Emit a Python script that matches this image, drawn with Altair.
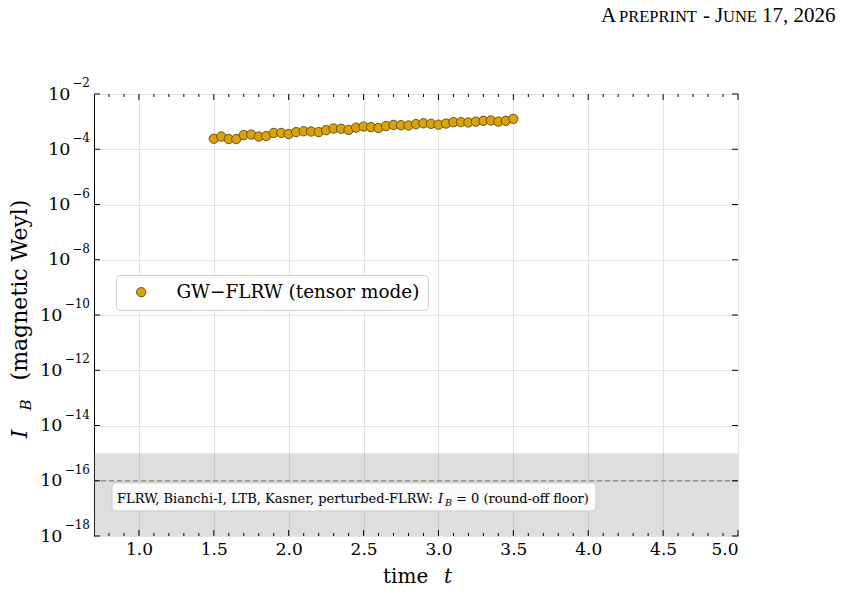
import altair as alt
import pandas as pd

# ---------------- data ----------------
t_values = [1.50, 1.55, 1.60, 1.65, 1.70, 1.75, 1.80, 1.85, 1.90, 1.95,
            2.00, 2.05, 2.10, 2.15, 2.20, 2.25, 2.30, 2.35, 2.40, 2.45,
            2.50, 2.55, 2.60, 2.65, 2.70, 2.75, 2.80, 2.85, 2.90, 2.95,
            3.00, 3.05, 3.10, 3.15, 3.20, 3.25, 3.30, 3.35, 3.40, 3.45, 3.50]
ib_values = [2.40e-4, 2.88e-4, 2.34e-4, 2.34e-4, 3.24e-4, 3.39e-4, 2.88e-4, 3.02e-4, 3.89e-4, 3.89e-4,
             3.55e-4, 4.17e-4, 4.47e-4, 4.37e-4, 4.17e-4, 4.90e-4, 5.62e-4, 5.50e-4, 5.01e-4, 6.03e-4,
             6.61e-4, 6.31e-4, 5.89e-4, 6.92e-4, 7.59e-4, 7.41e-4, 7.24e-4, 8.13e-4, 8.71e-4, 8.32e-4,
             7.76e-4, 8.51e-4, 9.55e-4, 9.55e-4, 9.33e-4, 1.00e-3, 1.07e-3, 1.10e-3, 1.00e-3, 1.07e-3, 1.26e-3]
series_name = "GW\u2212FLRW (tensor mode)"

x_major = [1.0, 1.5, 2.0, 2.5, 3.0, 3.5, 4.0, 4.5, 5.0]
x_minor = [0.8, 0.9, 1.1, 1.2, 1.3, 1.4, 1.6, 1.7, 1.8, 1.9, 2.1, 2.2, 2.3, 2.4,
           2.6, 2.7, 2.8, 2.9, 3.1, 3.2, 3.3, 3.4, 3.6, 3.7, 3.8, 3.9, 4.1, 4.2,
           4.3, 4.4, 4.6, 4.7, 4.8, 4.9]
y_exponents = [-2, -4, -6, -8, -10, -12, -14, -16, -18]
y_major = [1e-2, 1e-4, 1e-6, 1e-8, 1e-10, 1e-12, 1e-14, 1e-16, 1e-18]
floor_band = [1e-18, 1e-15]
floor_level = [1e-16]

# ---------------- layout ----------------
W, H = 644, 442
SERIF = "DejaVu Serif"
TIMES = "Liberation Serif"
GOLD = "#DBA20B"
EDGE = "#4a3a00"

xscale = alt.Scale(domain=[0.7, 5.0], nice=False, zero=False)
yscale = alt.Scale(type="log", domain=[1e-18, 1e-2], nice=False)

xaxis = alt.Axis(values=x_major, format=".1f", title=None, ticks=False, tickSize=0,
                 domain=False, grid=True, gridColor="#e2e2e2", gridWidth=1,
                 labelFont=SERIF, labelFontSize=17, labelColor="black", labelPadding=5)
yaxis = alt.Axis(values=y_major, labels=False, title=None, ticks=False, tickSize=0,
                 domain=False, grid=True, gridColor="#e2e2e2", gridWidth=1)

df = pd.DataFrame({"t": t_values, "ib": ib_values, "series": [series_name] * len(t_values)})

band = alt.Chart(pd.DataFrame({"lo": [floor_band[0]], "hi": [floor_band[1]]})).mark_rect(
    color="#808080", opacity=0.26).encode(
    y=alt.Y("lo:Q", scale=yscale, axis=yaxis), y2="hi:Q",
    x=alt.value(0), x2=alt.value(W))

floor_rule = alt.Chart(pd.DataFrame({"v": floor_level})).mark_rule(
    color="#7a7a7a", strokeDash=[5, 3], strokeWidth=1).encode(
    y=alt.Y("v:Q", scale=yscale, axis=yaxis))

points = alt.Chart(df).mark_point(
    filled=True, size=88, stroke=EDGE, strokeWidth=0.8, opacity=1).encode(
    x=alt.X("t:Q", scale=xscale, axis=xaxis),
    y=alt.Y("ib:Q", scale=yscale, axis=yaxis),
    fill=alt.Fill("series:N", scale=alt.Scale(range=[GOLD]),
                  legend=alt.Legend(title=None, orient="none", legendX=22, legendY=181,
                                    padding=8, fillColor="white", strokeColor="#cccccc",
                                    cornerRadius=4, labelFont=SERIF, labelFontSize=18.4,
                                    labelLimit=0, labelColor="black", symbolType="circle",
                                    symbolSize=88, symbolStrokeColor=EDGE,
                                    symbolStrokeWidth=0.8, symbolOffset=8, labelOffset=26)))


def tick_layer(vals, channel, start, end):
    d = pd.DataFrame({"v": vals})
    if channel == "x":
        return alt.Chart(d).mark_rule(color="black", strokeWidth=1).encode(
            x=alt.X("v:Q", scale=xscale, axis=xaxis), y=alt.value(start), y2=alt.value(end))
    return alt.Chart(d).mark_rule(color="black", strokeWidth=1).encode(
        y=alt.Y("v:Q", scale=yscale, axis=yaxis), x=alt.value(start), x2=alt.value(end))


ticks = [
    tick_layer(x_major, "x", H, H - 6), tick_layer(x_major, "x", 0, 6),
    tick_layer(x_minor, "x", H, H - 3), tick_layer(x_minor, "x", 0, 3),
    tick_layer(y_major, "y", 0, 6), tick_layer(y_major, "y", W, W - 6),
]

# y tick labels drawn as "10" + raised exponent (mathtext style)
ylab_df = pd.DataFrame({"v": y_major, "e": y_exponents})
ylab_base = alt.Chart(ylab_df).transform_calculate(
    exp="'\u2212' + toString(-datum.e)", nd="length(toString(-datum.e))")


def ylab_layer(ndigits, ten_x):
    b = ylab_base.transform_filter(alt.datum.nd == ndigits)
    exp_t = b.mark_text(align="right", baseline="alphabetic", font=SERIF, fontSize=12,
                        dy=-7, color="black").encode(
        y=alt.Y("v:Q", scale=yscale, axis=yaxis), x=alt.value(-4), text="exp:N")
    ten_t = b.mark_text(align="right", baseline="alphabetic", font=SERIF, fontSize=17.5,
                        dy=5.5, color="black", text="10").encode(
        y=alt.Y("v:Q", scale=yscale, axis=yaxis), x=alt.value(ten_x))
    return [exp_t, ten_t]


ylabels = ylab_layer(1, -23.5) + ylab_layer(2, -31.5)


def txt(s, x, y, size, font=SERIF, style="normal", align="left", angle=0):
    return alt.Chart(alt.Data(values=[{}])).mark_text(
        text=s, font=font, fontSize=size, fontStyle=style, align=align,
        baseline="alphabetic", angle=angle, color="black").encode(
        x=alt.value(x), y=alt.value(y))


note_box = alt.Chart(alt.Data(values=[{}])).mark_rect(
    fill="white", fillOpacity=0.85, stroke="#cccccc", strokeWidth=1, cornerRadius=4).encode(
    x=alt.value(18), x2=alt.value(502), y=alt.value(389), y2=alt.value(417))

texts = [
    # header (small caps imitation)
    txt("A", 507, -72, 21, font=TIMES),
    txt("PREPRINT", 525, -72, 16.5, font=TIMES),
    txt("-", 609, -72, 21, font=TIMES),
    txt("J", 621, -72, 21, font=TIMES),
    txt("UNE", 629, -72, 16.5, font=TIMES),
    txt("17, 2026", 668, -72, 21, font=TIMES),
    # x title
    txt("time", 289, 489, 20),
    txt("t", 350, 489, 20, style="italic"),
    # y title
    txt("(magnetic Weyl)", -67, 196, 22, align="center", angle=270),
    txt("I", -67, 340, 22, style="italic", align="center", angle=270),
    txt("B", -63, 311, 15, style="italic", align="center", angle=270),
    # floor note
    txt("FLRW, Bianchi-I, LTB, Kasner, perturbed-FLRW:", 23, 409, 13.0),
    txt("I", 344, 409, 13.0, style="italic"),
    txt("B", 351, 412, 9.5, style="italic"),
    txt("= 0 (round-off floor)", 362, 409, 13.0),
]

chart = alt.layer(band, floor_rule, *ticks, points, *ylabels, note_box, *texts).properties(
    width=W, height=H,
    padding={"left": 94, "top": 94, "right": 114, "bottom": 56},
    autosize=alt.AutoSizeParams(type="none"),
    background="white",
).configure_view(stroke="black", strokeWidth=1)

chart.save("out.html", embed_options={"renderer": "svg", "actions": False})
